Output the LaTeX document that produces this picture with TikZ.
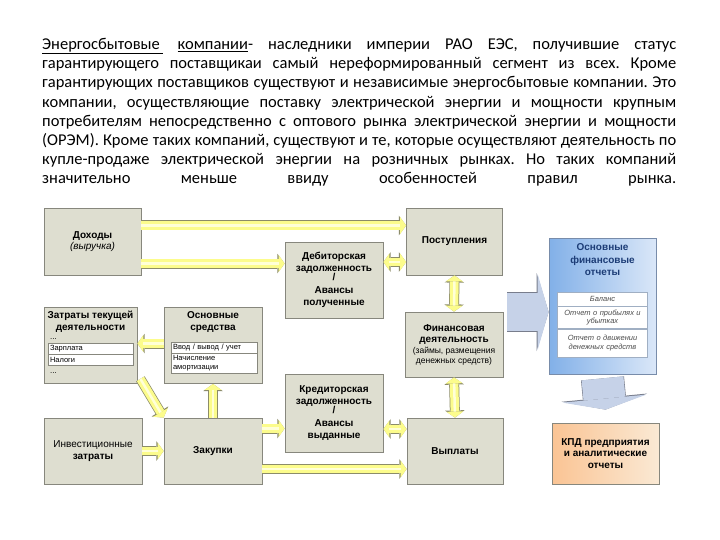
\documentclass[tikz,border=0pt]{standalone}
\usepackage{fontspec}
\setmainfont{Liberation Sans}
\newfontfamily\introfont{Carlito}
\usetikzlibrary{arrows.meta,positioning}

\definecolor{boxfill}{RGB}{222,222,208}
\definecolor{boxline}{RGB}{135,135,125}
\definecolor{yfill}{RGB}{252,252,140}
\definecolor{ylight}{RGB}{255,255,215}
\definecolor{yline}{RGB}{140,140,105}
\definecolor{repleft}{RGB}{130,176,232}
\definecolor{repright}{RGB}{218,231,248}
\definecolor{repline}{RGB}{120,140,170}
\definecolor{reptext}{RGB}{28,60,118}
\definecolor{bigfill}{RGB}{198,210,232}
\definecolor{bigline}{RGB}{120,125,140}
\definecolor{kpdleft}{RGB}{250,196,148}
\definecolor{kpdright}{RGB}{250,233,212}

\frenchspacing
\begin{document}
\begin{tikzpicture}[x=1pt, y=-1pt,
  box/.style={draw=boxline, fill=boxfill, line width=0.8pt, align=center, inner sep=1pt, font=\bfseries\fontsize{10}{11.8}\selectfont},
  boxtitle/.style={inner sep=0pt, align=center, font=\bfseries\fontsize{10}{11.8}\selectfont},
  zcell/.style={draw=boxline, fill=white, line width=0.6pt, inner sep=2pt, text width=81pt, minimum height=11pt, align=left, font=\fontsize{7.5}{8.5}\selectfont},
  ocell/.style={draw=boxline, fill=white, line width=0.6pt, inner sep=2pt, text width=82pt, minimum height=11pt, align=left, font=\fontsize{7.5}{8.5}\selectfont},
  dots/.style={inner sep=0pt, font=\fontsize{8}{9}\selectfont},
  repbox/.style={draw=repline, line width=0.8pt, left color=repleft, right color=repright},
  reptitle/.style={inner sep=0pt, align=center, text=reptext, font=\bfseries\fontsize{10}{12.5}\selectfont},
  repcell/.style={draw=repline!70, fill=white, line width=0.6pt, minimum width=90pt, text width=86pt, inner sep=2pt, align=center, text=black!70, font=\itshape\fontsize{7.5}{8.5}\selectfont},
  kpdbox/.style={draw=boxline, line width=0.8pt, left color=kpdleft, right color=kpdright, align=center, font=\bfseries\fontsize{10}{11.5}\selectfont},
  yarr/.style={draw=yfill, line width=8.5pt, -{Triangle[width=17pt,length=6pt,line width=0pt]},
    preaction={draw=yline, line width=10pt, -{Triangle[width=19.5pt,length=7.2pt,line width=0pt]}},
    postaction={draw=ylight, line width=2.5pt, -, shorten >=6pt}},
  darr/.style={draw=yfill, line width=8.5pt, {Triangle[width=17pt,length=6pt,line width=0pt]}-{Triangle[width=17pt,length=6pt,line width=0pt]},
    preaction={draw=yline, line width=10pt, {Triangle[width=19.5pt,length=7.2pt,line width=0pt]}-{Triangle[width=19.5pt,length=7.2pt,line width=0pt]}},
    postaction={draw=ylight, line width=2.5pt, -, shorten >=6pt, shorten <=6pt}},
  bigarr/.style={draw=bigfill, line width=#1, -{Triangle[width=2*#1,length=11pt,line width=0pt]},
    preaction={draw=bigline, line width=#1+1.2pt, -{Triangle[width=2*#1+2pt,length=12pt,line width=0pt]}}}
]
\useasboundingbox (0,0) rectangle (720,540);
\fill[white] (0,0) rectangle (720,540);

\node[anchor=north west, inner sep=0pt, align=left, font=\introfont\fontsize{16.5}{19.2}\selectfont] (intro) at (42,38) {%
\makebox[634pt][s]{\underline{Энергосбытовые\,} \underline{компании}- наследники империи РАО ЕЭС, получившие статус}\\
\makebox[634pt][s]{гарантирующего поставщикаи самый нереформированный сегмент из всех. Кроме}\\
\makebox[634pt][s]{гарантирующих поставщиков существуют и независимые энергосбытовые компании. Это}\\
\makebox[634pt][s]{компании, осуществляющие поставку электрической энергии и мощности крупным}\\
\makebox[634pt][s]{потребителям непосредственно с оптового рынка электрической энергии и мощности}\\
\makebox[634pt][s]{(ОРЭМ). Кроме таких компаний, существуют и те, которые осуществляют деятельность по}\\
\makebox[634pt][s]{купле-продаже электрической энергии на розничных рынках. Но таких компаний}\\
\makebox[634pt][s]{значительно меньше ввиду особенностей правил рынка.}};

\node[box, minimum width=97pt, minimum height=67pt] (dohody) at (92.5,241.5) {Доходы\\\mdseries\itshape (выручка)};
\node[box, minimum width=96pt, minimum height=67pt] (postup) at (454.5,241.5) {Поступления};
\node[box, minimum width=98pt, minimum height=76pt] (debit) at (334,280) {Дебиторская\\задолженность\\[-2.5pt]/\\[1.5pt]Авансы\\полученные};
\node[box, minimum width=98pt, minimum height=65pt] (fin) at (454,344.5) {Финансовая\\деятельность\\[-1pt]\mdseries\fontsize{8.5}{9.5}\selectfont(займы, размещения\\[-2.5pt]\mdseries\fontsize{8.5}{9.5}\selectfont денежных средств)};

\node[box, minimum width=93pt, minimum height=76pt] (zatraty) at (90.5,345.5) {};
\node[boxtitle, below=3.5pt of zatraty.north] (zatratyT) {Затраты текущей\\деятельности};
\node[dots, anchor=base west] (zdots1) at (50,339) {...};
\node[zcell] (zpay) at (90.5,348.5) {Зарплата};
\node[zcell, below=0pt of zpay] (ztax) {Налоги};
\node[dots, anchor=base west] (zdots2) at (50,373) {...};

\node[box, minimum width=98pt, minimum height=76pt] (osnsr) at (213,345.5) {};
\node[boxtitle, below=4.5pt of osnsr.north] (osnsrT) {Основные\\средства};
\node[ocell] (oin) at (214,347.5) {Ввод / вывод / учет};
\node[ocell, below=0pt of oin] (oam) {Начисление\\амортизации};

\node[box, minimum width=98pt, minimum height=78pt] (kredit) at (334,413) {Кредиторская\\задолженность\\[-2.5pt]/\\[1.5pt]Авансы\\выданные};
\node[box, minimum width=98pt, minimum height=66pt] (invest) at (93,451) {\mdseries Инвестиционные\\затраты};
\node[box, minimum width=98pt, minimum height=66pt] (zakupki) at (213,451) {Закупки};
\node[box, minimum width=96pt, minimum height=66pt] (vyplaty) at (455,451) {Выплаты};

\node[repbox, minimum width=107pt, minimum height=136pt] (rep) at (602.5,306) {};
\node[reptitle, below=6pt of rep.north] (repT) {Основные\\финансовые\\отчеты};
\node[repcell, minimum height=14pt] (bal) at (602.5,299) {Баланс};
\node[repcell, minimum height=22pt, below=0pt of bal] (pnl) {Отчет о прибылях и\\убытках};
\node[repcell, minimum height=28pt, below=0pt of pnl] (cash) {Отчет о движении\\денежных средств};

\node[kpdbox, minimum width=107pt, minimum height=61pt] (kpd) at (605.5,453.5) {КПД предприятия\\и аналитические\\отчеты};

\draw[yarr] ([yshift=16pt]dohody.east) -- ([yshift=16pt]postup.west);
\draw[yarr] ([yshift=-22pt]dohody.east) -- ([yshift=-22pt]dohody.east -| debit.west);
\draw[darr] ([yshift=18pt]debit.east) -- ([yshift=18pt]debit.east -| postup.west);
\draw[darr] (postup.south) -- (fin.north);
\draw[darr] (fin.south) -- (vyplaty.north);
\draw[yarr] ([yshift=2pt]osnsr.west) -- ([yshift=2pt]osnsr.west -| zatraty.east);
\draw[yarr] ([xshift=3pt,yshift=5pt]zatraty.south east) -- (zakupki.north west);
\draw[yarr] (zakupki.north) -- (osnsr.south);
\draw[yarr] (invest.east) -- (zakupki.west);
\draw[yarr] ([yshift=22.5pt]zakupki.east) -- ([yshift=22.5pt]zakupki.east -| kredit.west);
\draw[darr] ([yshift=-16pt]kredit.east) -- ([yshift=-16pt]kredit.east -| vyplaty.west);
\draw[yarr] ([yshift=-18pt]zakupki.east) -- ([yshift=-18pt]zakupki.east -| vyplaty.west);

\coordinate (repin) at (507,312);
\draw[bigarr=38pt] (repin) -- (repin -| rep.west);
\draw[bigarr=42pt] ([yshift=-4pt]rep.south) -- ([yshift=13pt]kpd.north);
\end{tikzpicture}
\end{document}
